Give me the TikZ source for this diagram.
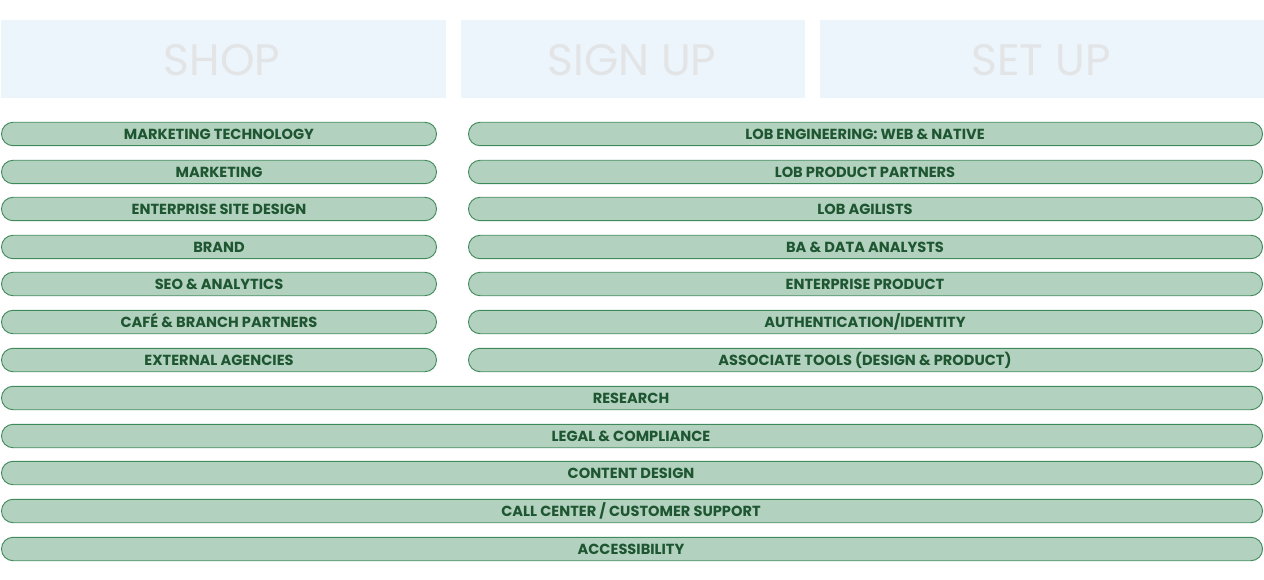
\documentclass[tikz,border=0pt]{standalone}
\usepackage{fontspec}
\setmainfont{Poppins}
\definecolor{hdrfill}{HTML}{ECF5FC}
\definecolor{hdrtext}{HTML}{E2E4E6}
\definecolor{pillfill}{HTML}{B3D1BF}
\definecolor{pillline}{HTML}{3E8A5A}
\definecolor{pilltext}{HTML}{1E5631}
\tikzset{
  hdrlabel/.style={text=hdrtext, font=\fontsize{44}{44}\selectfont},
  pill/.style={fill=pillfill, draw=pillline, line width=0.9pt, rounded corners=11.5pt},
  pilllabel/.style={text=pilltext, font=\bfseries\fontsize{14.6}{15}\selectfont, text height=10.4pt, text depth=0pt, inner sep=0pt}
}
\begin{document}
\begin{tikzpicture}[x=1pt,y=-1pt]
\useasboundingbox (0,0) rectangle (1264,580);
% headers
\fill[hdrfill] (1,20) rectangle (446,98);
\fill[hdrfill] (461,20) rectangle (805,98);
\fill[hdrfill] (820,20) rectangle (1264,98);
\node[hdrlabel] (shop) at (222,60) {SHOP};
\node[hdrlabel] (signup) at (632,60) {SIGN UP};
\node[hdrlabel] (setup) at (1041,60) {SET UP};
% left column
\foreach \y/\t/\n in {134/{MARKETING TECHNOLOGY}/l1, 172/{MARKETING}/l2, 209/{ENTERPRISE SITE DESIGN}/l3, 247/{BRAND}/l4, 284/{SEO \& ANALYTICS}/l5, 322/{CAFÉ \& BRANCH PARTNERS}/l6, 360/{EXTERNAL AGENCIES}/l7}{
  \draw[pill] (1.5,\y-11.7) rectangle (436.5,\y+11.7);
  \node[pilllabel] (\n) at (219,\y) {\t};
}
% right column
\foreach \y/\t/\n in {134/{LOB ENGINEERING: WEB \& NATIVE}/r1, 172/{LOB PRODUCT PARTNERS}/r2, 209/{LOB AGILISTS}/r3, 247/{BA \& DATA ANALYSTS}/r4, 284/{ENTERPRISE PRODUCT}/r5, 322/{AUTHENTICATION/IDENTITY}/r6, 360/{ASSOCIATE TOOLS (DESIGN \& PRODUCT)}/r7}{
  \draw[pill] (468.5,\y-11.7) rectangle (1262.5,\y+11.7);
  \node[pilllabel] (\n) at (865,\y) {\t};
}
% full width
\foreach \y/\t/\n in {398/{RESEARCH}/f1, 436/{LEGAL \& COMPLIANCE}/f2, 473/{CONTENT DESIGN}/f3, 511/{CALL CENTER / CUSTOMER SUPPORT}/f4, 549/{ACCESSIBILITY}/f5}{
  \draw[pill] (1.5,\y-11.7) rectangle (1262.5,\y+11.7);
  \node[pilllabel] (\n) at (631,\y) {\t};
}
\end{tikzpicture}
\end{document}
